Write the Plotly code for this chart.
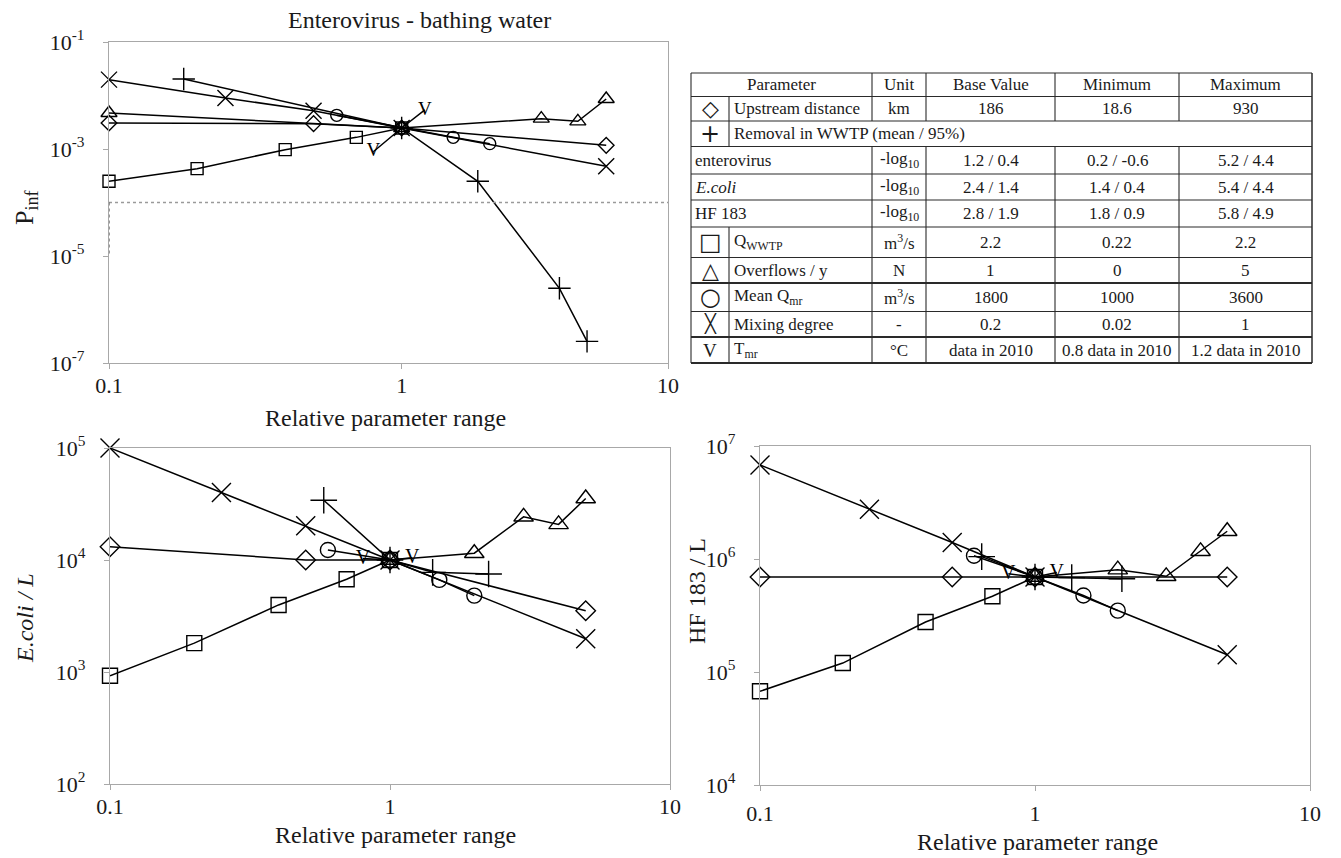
import math
import plotly.graph_objects as go

# page offset (default body margin) compensated so the chart lands on the reference pixels
OFF = 8
W, H = 1341 - OFF, 858 - OFF
SERIF = "Liberation Serif"

# ---------------- data: relative parameter range (x) and model output (y) ----------------
# Top-left: Enterovirus - bathing water, P_inf
ent_diamond_x = [0.1, 0.5, 1, 5]
ent_diamond_y = [3.06e-3, 2.98e-3, 2.47e-3, 1.17e-3]
ent_plus_x = [0.18, 1, 1.82, 3.46, 4.3]
ent_plus_y = [2.04e-2, 2.47e-3, 2.49e-4, 2.49e-6, 2.54e-7]
ent_square_x = [0.1, 0.2, 0.4, 0.7, 1]
ent_square_y = [2.49e-4, 4.29e-4, 9.72e-4, 1.65e-3, 2.47e-3]
ent_triangle_x = [0.1, 1, 3, 4, 5]
ent_triangle_y = [4.71e-3, 2.47e-3, 3.69e-3, 3.29e-3, 8.61e-3]
ent_circle_x = [0.6, 1, 1.5, 2]
ent_circle_y = [4.26e-3, 2.47e-3, 1.65e-3, 1.26e-3]
ent_x_x = [0.1, 0.25, 0.5, 1, 5]
ent_x_y = [1.98e-2, 8.97e-3, 5.21e-3, 2.47e-3, 4.74e-4]
ent_v_x = [0.8, 1, 1.2]
ent_v_y = [8.9e-4, 2.47e-3, 5.37e-3]
ent_threshold = 1e-4
ent_threshold_low = 1e-5

# Bottom-left: E.coli / L
eco_diamond_x = [0.1, 0.5, 1, 5]
eco_diamond_y = [1.315e4, 1.0e4, 1.0e4, 3.52e3]
eco_plus_x = [0.58, 1, 1.42, 2.25]
eco_plus_y = [3.42e4, 1.0e4, 7.76e3, 7.5e3]
eco_square_x = [0.1, 0.2, 0.4, 0.7, 1]
eco_square_y = [927, 1.81e3, 3.97e3, 6.73e3, 1.0e4]
eco_triangle_x = [1, 2, 3, 4, 5]
eco_triangle_y = [1.0e4, 1.15e4, 2.43e4, 2.08e4, 3.54e4]
eco_circle_x = [0.6, 1, 1.5, 2]
eco_circle_y = [1.23e4, 1.0e4, 6.64e3, 4.81e3]
eco_x_x = [0.1, 0.25, 0.5, 1, 5]
eco_x_y = [1.0e5, 4.0e4, 2.02e4, 1.0e4, 1.98e3]
eco_v_x = [0.8, 1, 1.2]
eco_v_y = [1.03e4, 1.0e4, 1.05e4]

# Bottom-right: HF 183 / L
hf_diamond_x = [0.1, 0.5, 1, 5]
hf_diamond_y = [6.93e5, 6.93e5, 6.93e5, 6.93e5]
hf_plus_x = [0.64, 1, 1.36, 2.07]
hf_plus_y = [1.05e6, 6.93e5, 6.84e5, 6.68e5]
hf_square_x = [0.1, 0.2, 0.4, 0.7, 1]
hf_square_y = [6.75e4, 1.20e5, 2.77e5, 4.68e5, 6.93e5]
hf_triangle_x = [1, 2, 3, 4, 5]
hf_triangle_y = [6.93e5, 8.05e5, 7.03e5, 1.17e6, 1.76e6]
hf_circle_x = [0.6, 1, 1.5, 2]
hf_circle_y = [1.07e6, 6.93e5, 4.76e5, 3.49e5]
hf_x_x = [0.1, 0.25, 0.5, 1, 5]
hf_x_y = [6.79e6, 2.75e6, 1.40e6, 6.93e5, 1.42e5]
hf_v_x = [0.8, 1, 1.2]
hf_v_y = [7.41e5, 6.93e5, 7.59e5]

# tick labels
x_tickvals = [0.1, 1, 10]
x_ticktext = ["0.1", "1", "10"]
ent_y_exp = [-1, -3, -5, -7]
eco_y_exp = [2, 3, 4, 5]
hf_y_exp = [4, 5, 6, 7]

# table content
tbl_header = ["Parameter", "Unit", "Base Value", "Minimum", "Maximum"]
tbl_symbols = ["\u25C7", "+", "", "", "", "\u25A1", "\u25B3", "\u25CB", "\u2573", "V"]
tbl_names = ["Upstream distance", "Removal in WWTP (mean / 95%)", "enterovirus", "<i>E.coli</i>",
             "HF 183", "Q<sub>WWTP</sub>", "Overflows / y", "Mean Q<sub>mr</sub>",
             "Mixing degree", "T<sub>mr</sub>"]
tbl_units = ["km", "", "-log<sub>10</sub>", "-log<sub>10</sub>", "-log<sub>10</sub>",
             "m<sup>3</sup>/s", "N", "m<sup>3</sup>/s", "-", "\u00b0C"]
tbl_base = ["186", "", "1.2 / 0.4", "2.4 / 1.4", "2.8 / 1.9", "2.2", "1", "1800", "0.2", "data in 2010"]
tbl_min = ["18.6", "", "0.2 / -0.6", "1.4 / 0.4", "1.8 / 0.9", "0.22", "0", "1000", "0.02",
           "0.8 data in 2010"]
tbl_max = ["930", "", "5.2 / 4.4", "5.4 / 4.4", "5.8 / 4.9", "2.2", "5", "3600", "1",
           "1.2 data in 2010"]


# ---------------- layout geometry (reference pixels -> paper fractions) ----------------
def px(x):
    return (x - OFF) / W


def py(y):
    return 1 - (y - OFF) / H


X_END_TOP = 8.13  # right edge of the top-left axis box

fig = go.Figure()

SERIES = [
    ("diamond-open", "diamond"),
    ("cross-thin-open", "plus"),
    ("square-open", "square"),
    ("triangle-up-open", "triangle"),
    ("circle-open", "circle"),
    ("x-thin-open", "x"),
]


def add_panel(prefix, xa, ya, msize, vsize):
    g = globals()
    for sym, key in SERIES:
        xs = g[f"{prefix}_{key}_x"]
        ys = g[f"{prefix}_{key}_y"]
        size = msize
        if key in ("plus", "x"):
            size = msize + 4
        if key == "triangle":
            size = msize + 2
        fig.add_trace(go.Scatter(
            x=xs, y=ys, mode="lines+markers", xaxis=xa, yaxis=ya,
            line=dict(color="black", width=1.5),
            marker=dict(symbol=sym, size=size, color="black",
                        line=dict(color="black", width=1.4)),
            cliponaxis=False, showlegend=False, hoverinfo="x+y"))
    xs = g[f"{prefix}_v_x"]
    ys = g[f"{prefix}_v_y"]
    fig.add_trace(go.Scatter(
        x=xs, y=ys, mode="lines", xaxis=xa, yaxis=ya,
        line=dict(color="black", width=1.5),
        cliponaxis=False, showlegend=False))
    fig.add_trace(go.Scatter(
        x=[xs[0], xs[-1]], y=[ys[0], ys[-1]], mode="text", xaxis=xa, yaxis=ya,
        text=["V", "V"], textposition="middle center",
        textfont=dict(family=SERIF, size=vsize, color="black"),
        cliponaxis=False, showlegend=False))


add_panel("ent", "x", "y", 12, 19)
add_panel("eco", "x2", "y2", 15, 20)
add_panel("hf", "x3", "y3", 15, 20)

# threshold lines (top-left)
fig.add_trace(go.Scatter(x=[0.1, X_END_TOP], y=[ent_threshold, ent_threshold], mode="lines",
                         xaxis="x", yaxis="y", line=dict(color="#9a9a9a", width=1.3, dash="dot"),
                         showlegend=False, hoverinfo="skip"))
fig.add_trace(go.Scatter(x=[0.1, 0.1], y=[ent_threshold, ent_threshold_low], mode="lines",
                         xaxis="x", yaxis="y", line=dict(color="#555555", width=1.2, dash="dot"),
                         showlegend=False, hoverinfo="skip", cliponaxis=False))

AX_COL = "#a8a8a8"
tickfont = dict(family=SERIF, size=22, color="#1a1a1a")


def xaxis(domain, rng, tv, tt, stand, anchor):
    return dict(type="log", domain=domain, range=rng, tickvals=tv, ticktext=tt, anchor=anchor,
                showline=True, mirror=True, linecolor=AX_COL, linewidth=1.2,
                ticks="outside", ticklen=5, tickcolor=AX_COL, showgrid=False,
                zeroline=False, tickfont=tickfont, ticklabelstandoff=stand, automargin=False)


def yaxis(domain, exps, anchor):
    lo, hi = min(exps), max(exps)
    return dict(type="log", domain=domain, range=[lo, hi], anchor=anchor,
                tickvals=[10.0 ** e for e in exps],
                ticktext=[f"10<sup>{e}</sup>" for e in exps],
                showline=True, mirror=True, linecolor=AX_COL, linewidth=1.2,
                ticks="outside", ticklen=5, tickcolor=AX_COL, showgrid=False,
                zeroline=False, tickfont=tickfont, ticklabelstandoff=14, automargin=False)


fig.update_layout(
    width=W, height=H, margin=dict(l=0, r=0, t=0, b=0, autoexpand=False),
    paper_bgcolor="white", plot_bgcolor="white",
    xaxis=xaxis([px(109), px(668)], [-1, math.log10(X_END_TOP)],
                [0.1, 1, X_END_TOP], x_ticktext, -3, "y"),
    yaxis=yaxis([py(363), py(42)], ent_y_exp, "x"),
    xaxis2=xaxis([px(110), px(670)], [-1, 1], x_tickvals, x_ticktext, -3, "y2"),
    xaxis3=xaxis([px(760), px(1310)], [-1, 1], x_tickvals, x_ticktext, 3, "y3"),
    yaxis2=yaxis([py(784), py(448)], eco_y_exp, "x2"),
    yaxis3=yaxis([py(785), py(446)], hf_y_exp, "x3"),
)

ann = []


def text(x, y, s, size=22, xanchor="center", angle=0, family=SERIF, color="#1a1a1a"):
    ann.append(dict(x=px(x), y=py(y), xref="paper", yref="paper", text=s, showarrow=False,
                    xanchor=xanchor, yanchor="middle", textangle=angle,
                    font=dict(family=family, size=size, color=color)))


# titles
text(419, 20, "Enterovirus - bathing water", 24)
text(385, 418, "Relative parameter range", 24)
text(395, 835, "Relative parameter range", 24)
text(1037, 842, "Relative parameter range", 24)
text(26, 207, "P<sub>inf</sub>", 26, angle=-90)
text(25, 618, "<i>E.coli / L</i>", 24, angle=-90)
text(697, 591, "HF 183 / L", 24, angle=-90)

# ---------------- table ----------------
TL, TS, TU, TB, TMIN, TMAX, TR = 691, 729, 872, 926, 1055, 1179, 1312
rows = [73, 96.5, 121, 146.5, 174, 200, 227, 257.5, 283, 311.5, 337, 363]
shapes = []


def hline(y, x0, x1, w=1.1):
    shapes.append(dict(type="line", xref="paper", yref="paper", x0=px(x0), x1=px(x1),
                       y0=py(y), y1=py(y), line=dict(color="#2a2a2a", width=w)))


def vline(x, y0, y1, w=1.1):
    shapes.append(dict(type="line", xref="paper", yref="paper", x0=px(x), x1=px(x),
                       y0=py(y0), y1=py(y1), line=dict(color="#2a2a2a", width=w)))


for i, y in enumerate(rows):
    hline(y, TL, TR, 2.0 if i in (8, 10, 11) else 1.1)
vline(TL, rows[0], rows[-1])
vline(TR, rows[0], rows[-1], 1.5)
for x in (TU, TB, TMIN, TMAX):
    vline(x, rows[0], rows[2])
    vline(x, rows[3], rows[-1])
vline(TS, rows[1], rows[3])
vline(TS, rows[6], rows[-1])

cols_c = [(TL + TU) / 2, (TU + TB) / 2, (TB + TMIN) / 2, (TMIN + TMAX) / 2, (TMAX + TR) / 2]
hy = (rows[0] + rows[1]) / 2
for cx, s in zip(cols_c, tbl_header):
    text(cx, hy, s, 17)

sym_sizes = {"\u25C7": 22, "+": 24, "\u25A1": 24, "\u25B3": 22, "\u25CB": 24, "\u2573": 18}
for i in range(len(tbl_names)):
    yc = (rows[i + 1] + rows[i + 2]) / 2
    sym = tbl_symbols[i]
    if sym:
        if sym == "V":
            text((TL + TS) / 2, yc, sym, 19)
        else:
            text((TL + TS) / 2, yc, sym, sym_sizes[sym], family="DejaVu Sans", color="#1a1a1a")
        text(TS + 3, yc, tbl_names[i], 17, xanchor="left")
    else:
        text(TL + 2, yc, tbl_names[i], 17, xanchor="left")
    for cx, s in zip(cols_c[1:], [tbl_units[i], tbl_base[i], tbl_min[i], tbl_max[i]]):
        if s:
            text(cx, yc, s, 17)

fig.update_layout(annotations=ann, shapes=shapes)
fig.write_html("out.html")
